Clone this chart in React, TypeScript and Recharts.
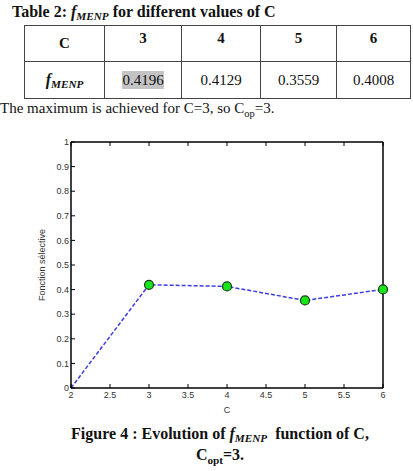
import React from 'react';
import { LineChart, Line, XAxis, YAxis } from 'recharts';

const cValues = [2, 3, 4, 5, 6];
const fValues = [0, 0.4196, 0.4129, 0.3559, 0.4008];
const xTicks = [2, 2.5, 3, 3.5, 4, 4.5, 5, 5.5, 6];
const yTicks = [0, 0.1, 0.2, 0.3, 0.4, 0.5, 0.6, 0.7, 0.8, 0.9, 1];
const tableC = ['3', '4', '5', '6'];
const tableF = ['0.4196', '0.4129', '0.3559', '0.4008'];
const colWidths = [80, 77, 79, 76, 74];

const data = cValues.map((c, i) => ({ c, f: fValues[i] }));

const serif = '"Liberation Serif", "Times New Roman", serif';
const sans = '"Liberation Sans", Arial, sans-serif';
const tickStyle = { fontSize: 9, fill: '#333', fontFamily: sans };
const frame = { stroke: '#000', strokeWidth: 1.5 };

const subStyle: React.CSSProperties = { fontSize: '0.7em', verticalAlign: '-0.25em', lineHeight: 0 };

const FMenp = () => (
  <span style={{ fontStyle: 'italic', fontWeight: 'bold' }}>
    f<sub style={subStyle}>MENP</sub>
  </span>
);

const cell: React.CSSProperties = {
  border: '1px solid #444',
  textAlign: 'center',
  padding: 0,
};

const GreenDot = (props: any) => {
  const { cx, cy, payload } = props;
  if (payload.c === 2) return <g key={`d-${payload.c}`} />;
  return (
    <circle key={`d-${payload.c}`} cx={cx} cy={cy} r={4.5} fill="#19e619" stroke="#1a3a1a" strokeWidth={1.2} />
  );
};

export default function App() {
  return (
    <div style={{ position: 'absolute', left: 0, top: 0, width: 413, height: 471, background: '#fff', overflow: 'hidden', fontFamily: serif, color: '#111' }}>
      <div style={{ position: 'absolute', left: 12, top: 3, fontSize: 16, fontWeight: 'bold', whiteSpace: 'nowrap' }}>
        Table 2: <FMenp /> for different values of C
      </div>
      <table style={{ position: 'absolute', left: 24, top: 25, borderCollapse: 'collapse', tableLayout: 'fixed', width: 386 }}>
        <colgroup>
          {colWidths.map((w, i) => <col key={i} style={{ width: w }} />)}
        </colgroup>
        <tbody>
          <tr style={{ height: 36 }}>
            <td style={{ ...cell, fontWeight: 'bold', fontSize: 15 }}>C</td>
            {tableC.map((c) => (
              <td key={c} style={{ ...cell, fontWeight: 'bold', fontSize: 15, verticalAlign: 'top', paddingTop: 4 }}>{c}</td>
            ))}
          </tr>
          <tr style={{ height: 37 }}>
            <td style={{ ...cell, fontSize: 16 }}><FMenp /></td>
            {tableF.map((v, i) => (
              <td key={v} style={{ ...cell, fontSize: 15 }}>
                <span style={{ background: i === 0 ? '#c4c4c4' : 'transparent', padding: '1px 0' }}>{v}</span>
              </td>
            ))}
          </tr>
        </tbody>
      </table>
      <div style={{ position: 'absolute', left: 0, top: 100, fontSize: 15, whiteSpace: 'nowrap' }}>
        The maximum is achieved for C=3, so C<sub style={{ fontSize: '0.7em', lineHeight: 0 }}>op</sub>=3.
      </div>

      <div style={{ position: 'absolute', left: 0, top: 130 }}>
        <LineChart width={413} height={300} data={data} margin={{ top: 11, right: 29, bottom: 17, left: 41 }}>
          <XAxis
            dataKey="c"
            type="number"
            domain={[2, 6]}
            ticks={xTicks}
            height={25}
            tickSize={-4}
            tickMargin={8}
            tick={tickStyle}
            axisLine={frame}
            tickLine={{ stroke: '#000' }}
            label={{ value: 'C', position: 'insideBottom', offset: 0, fontSize: 9, fill: '#333', fontFamily: sans }}
          />
          <XAxis
            xAxisId="top"
            orientation="top"
            dataKey="c"
            type="number"
            domain={[2, 6]}
            ticks={xTicks}
            height={1}
            tickSize={-4}
            tickFormatter={() => ''}
            axisLine={frame}
            tickLine={{ stroke: '#000' }}
          />
          <YAxis
            type="number"
            domain={[0, 1]}
            ticks={yTicks}
            width={30}
            tickSize={-4}
            tickMargin={6}
            tick={tickStyle}
            axisLine={frame}
            tickLine={{ stroke: '#000' }}
            label={{
              content: (p: any) => {
                const vb = p.viewBox || {};
                const x = vb.x + 4;
                const y = vb.y + vb.height / 2;
                return (
                  <text x={x} y={y} transform={`rotate(-90, ${x}, ${y})`} textAnchor="middle" fontSize={9} fill="#333" fontFamily={sans}>
                    Fonction sélective
                  </text>
                );
              },
            }}
          />
          <YAxis
            yAxisId="right"
            orientation="right"
            type="number"
            domain={[0, 1]}
            ticks={yTicks}
            width={1}
            tickSize={-4}
            tickFormatter={() => ''}
            axisLine={frame}
            tickLine={{ stroke: '#000' }}
          />
          <Line
            type="linear"
            dataKey="f"
            stroke="#3c3ce6"
            strokeWidth={1.5}
            strokeDasharray="4 2"
            dot={GreenDot}
            activeDot={false}
            isAnimationActive={false}
          />
        </LineChart>
      </div>

      <div style={{ position: 'absolute', left: 0, top: 423, width: 440, textAlign: 'center', fontSize: 16, fontWeight: 'bold', lineHeight: '21px' }}>
        Figure 4 : Evolution of <FMenp />&nbsp; function of C,
        <br />
        C<sub style={{ fontSize: '0.7em', lineHeight: 0 }}>opt</sub>=3.
      </div>
    </div>
  );
}
